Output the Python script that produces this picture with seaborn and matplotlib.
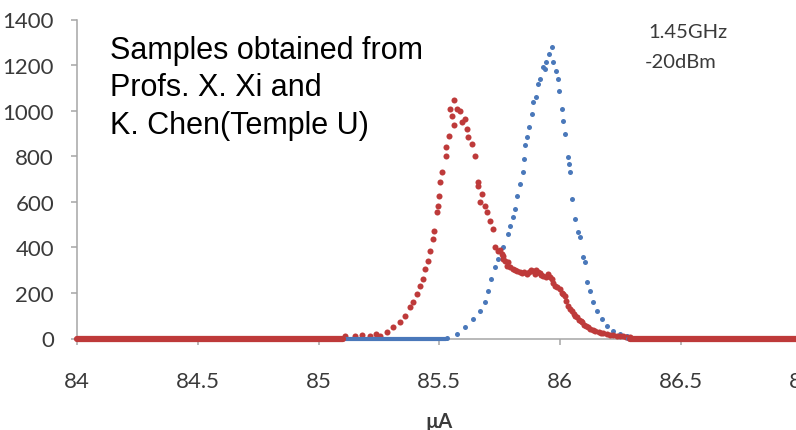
import matplotlib
matplotlib.use("Agg")
import matplotlib.pyplot as plt
import seaborn as sns

# sweep current (uA) vs counts
red_x = [85.110, 85.151, 85.180, 85.213, 85.238, 85.255, 85.282, 85.308, 85.337, 85.358,
         85.379, 85.391, 85.407, 85.420, 85.433, 85.441, 85.453, 85.462, 85.473, 85.477,
         85.489, 85.493, 85.499, 85.503, 85.510, 85.528, 85.530, 85.540, 85.545, 85.552,
         85.561, 85.563, 85.572, 85.586, 85.593, 85.607, 85.615, 85.619, 85.634, 85.648,
         85.660, 85.662, 85.669, 85.676, 85.689, 85.696, 85.710, 85.723, 85.731, 85.743,
         85.752, 85.758, 85.764, 85.766, 85.772, 85.781, 85.785, 85.795, 85.805, 85.812,
         85.820, 85.834, 85.842, 85.850, 85.863, 85.870, 85.878, 85.888, 85.896, 85.902,
         85.909, 85.918, 85.923, 85.930, 85.940, 85.950, 85.958, 85.967, 85.972, 85.979,
         85.988, 86.000, 86.008, 86.014, 86.021, 86.026, 86.033, 86.042, 86.050, 86.058,
         86.062, 86.070, 86.080, 86.085, 86.091, 86.100, 86.108, 86.116, 86.125, 86.135,
         86.145, 86.160, 86.168, 86.178, 86.195, 86.205, 86.220, 86.235, 86.248, 86.261,
         86.275, 86.290]
red_y = [13, 11, 15, 13, 18, 12, 29, 50, 72, 100,
         138, 160, 195, 232, 261, 305, 341, 385, 437, 473,
         555, 583, 627, 688, 731, 802, 840, 890, 1007, 978,
         1048, 937, 1007, 1000, 950, 963, 919, 884, 854, 802,
         687, 671, 599, 634, 583, 555, 517, 481, 402, 385,
         390, 372, 363, 349, 340, 318, 336, 312, 305, 300,
         296, 292, 286, 294, 283, 290, 302, 298, 285, 300,
         292, 288, 280, 276, 270, 283, 268, 261, 245, 232,
         225, 217, 200, 196, 188, 165, 144, 130, 122, 108,
         100, 94, 82, 78, 72, 60, 55, 50, 42, 38,
         34, 28, 25, 24, 18, 16, 15, 12, 10, 10,
         7, 7]

blue_x = [85.532, 85.574, 85.607, 85.640, 85.669, 85.689, 85.702, 85.714, 85.731, 85.743,
          85.764, 85.785, 85.793, 85.805, 85.814, 85.822, 85.834, 85.847, 85.851, 85.855,
          85.863, 85.872, 85.884, 85.888, 85.901, 85.909, 85.917, 85.930, 85.938, 85.942,
          85.954, 85.966, 85.971, 85.983, 85.992, 85.996, 86.008, 86.012, 86.021, 86.033,
          86.037, 86.041, 86.050, 86.062, 86.075, 86.083, 86.095, 86.104, 86.112, 86.124,
          86.137, 86.153, 86.174, 86.195, 86.220, 86.248, 86.277]
blue_y = [4, 20, 50, 86, 121, 160, 208, 261, 314, 349,
          402, 459, 494, 533, 568, 625, 678, 731, 788, 849,
          884, 928, 985, 1038, 1060, 1117, 1139, 1192, 1183, 1213,
          1249, 1278, 1213, 1174, 1139, 1086, 1007, 955, 898, 797,
          766, 731, 612, 524, 467, 445, 358, 336, 248, 208,
          160, 121, 86, 55, 33, 20, 11]

# stretches where the counts sit at zero (start, end of each run)
red_zero_runs = [[84.0, 85.10], [86.29, 87.0]]
blue_zero_runs = [[84.0, 85.53], [86.28, 87.0]]

x_ticks = [84, 84.5, 85, 85.5, 86, 86.5, 87]
x_tick_labels = ["84", "84.5", "85", "85.5", "86", "86.5", "87"]
y_ticks = [0, 200, 400, 600, 800, 1000, 1200, 1400]

RED = "#BE3A3A"
BLUE = "#4A78BA"
AXIS_GREY = "#A6A6A6"
TEXT_GREY = "#3A3A3A"

sns.set_style("ticks")
plt.rcParams["font.family"] = ["Lato", "DejaVu Sans"]

fig = plt.figure(figsize=(7.96, 4.31), dpi=100)
# plot area runs a little past the right edge, as in the cropped original
ax = fig.add_axes([77 / 796, 91.5 / 431, 724.5 / 796, 319 / 431])

for run in blue_zero_runs:
    sns.lineplot(x=run, y=[0, 0], color=BLUE, linewidth=3.0, ax=ax, clip_on=False)
sns.scatterplot(x=blue_x, y=blue_y, color=BLUE, s=13, linewidth=0, ax=ax, clip_on=False)

for run in red_zero_runs:
    sns.lineplot(x=run, y=[0, 0], color=RED, linewidth=4.5, ax=ax, clip_on=False)
sns.scatterplot(x=red_x, y=red_y, color=RED, s=19, linewidth=0, ax=ax, clip_on=False)

ax.set_xlim(84, 87)
ax.set_ylim(0, 1400)
ax.set_xticks(x_ticks)
ax.set_xticklabels(x_tick_labels)
ax.set_yticks(y_ticks)

for side in ["top", "right"]:
    ax.spines[side].set_visible(False)
for side in ["left", "bottom"]:
    ax.spines[side].set_color(AXIS_GREY)
    ax.spines[side].set_linewidth(1.1)
    ax.spines[side].set_zorder(0.5)

ax.tick_params(axis="both", direction="out", length=4.5, width=1.1,
               color=AXIS_GREY, labelcolor=TEXT_GREY, labelsize=16)
ax.tick_params(axis="x", pad=19)
ax.tick_params(axis="y", pad=12)

ax.set_xlabel("µA", fontsize=14.5, fontweight="bold", color=TEXT_GREY)
ax.xaxis.set_label_coords(0.5, -0.258)
ax.xaxis.label.set_va("center")
ax.set_ylabel("")

# baseline of the last line sits at y=134 px in the original
fig.text(110 / 796, 1 - 134 / 431,
         "Samples obtained from\nProfs. X. Xi and\nK. Chen(Temple U)",
         family=["Liberation Sans", "DejaVu Sans"], fontsize=22, color="black",
         va="baseline", ha="left", linespacing=1.33)

fig.text(648 / 796, 1 - 33 / 431, "1.45GHz", fontsize=14.5, color=TEXT_GREY,
         va="center", ha="left")
fig.text(645 / 796, 1 - 62 / 431, "-20dBm", fontsize=14.5, color=TEXT_GREY,
         va="center", ha="left")

fig.savefig("out.png", dpi=100, facecolor="white")
